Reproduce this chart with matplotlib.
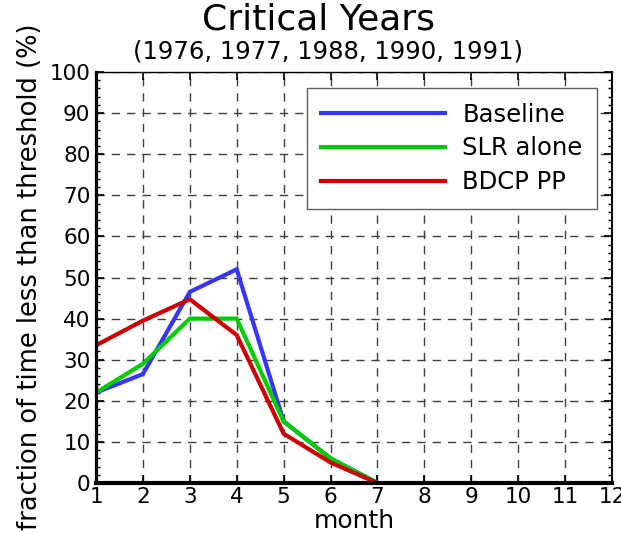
import matplotlib
matplotlib.use("Agg")
import matplotlib.pyplot as plt
from matplotlib.ticker import MultipleLocator

months = [1, 2, 3, 4, 5, 6, 7]
baseline = [22, 26.5, 46.5, 52, 15, 6, 0]
slr_alone = [22, 29, 40, 40, 15, 6, 0]
bdcp_pp = [33.5, 39.5, 44.7, 36, 12, 5, 0]
series_labels = ["Baseline", "SLR alone", "BDCP PP"]
series_colors = ["#3535ff", "#00cc00", "#cc0000"]
xticks = list(range(1, 13))
yticks = list(range(0, 101, 10))

plt.rcParams['font.family'] = ['DejaVu Sans']

W, H = 621, 533
fig = plt.figure(figsize=(W/100, H/100), dpi=100)
ax = fig.add_axes([96/W, 1-483/H, (612-96)/W, (483-72)/H])

for vals, lab, col in zip([baseline, slr_alone, bdcp_pp], series_labels, series_colors):
    ax.plot(months, vals, color=col, lw=3, label=lab, solid_joinstyle='miter')

ax.set_xlim(1, 12)
ax.set_ylim(0, 100)
ax.set_xticks(xticks)
ax.set_yticks(yticks)
ax.yaxis.set_minor_locator(MultipleLocator(2))
ax.grid(True, which='major', color='#404040', linestyle=(0, (6, 5)), lw=1)
ax.set_axisbelow(True)

ax.tick_params(axis='both', which='major', direction='in', labelsize=15.5,
               top=True, right=True, length=6, width=1.2, pad=4)
ax.tick_params(axis='y', which='minor', direction='in', left=True, right=True, length=3, width=1)
ax.tick_params(axis='x', which='major', top=True, pad=3)

ax.spines['left'].set_linewidth(2.3)
ax.spines['bottom'].set_linewidth(3)
ax.spines['right'].set_linewidth(1.5)
ax.spines['top'].set_linewidth(1)

fig.text(354/W, 1-528/H, "month", ha='center', va='baseline', fontsize=18)
fig.text(30/W, 1-276.5/H, "fraction of time less than threshold (%)", rotation=90,
         ha='center', va='center', fontsize=18.5)

leg = ax.legend(loc='upper right', bbox_to_anchor=(0.971, 0.961), fontsize=17.5,
                handlelength=5.1, handletextpad=0.7, labelspacing=0.4,
                borderpad=0.6, borderaxespad=0, fancybox=False, framealpha=1,
                edgecolor='#606060')
leg.get_frame().set_linewidth(1)

fig.text(318/W, 1-20/H, "Critical Years", ha='center', va='center', fontsize=26)
fig.text(328/W, 1-52/H, "(1976, 1977, 1988, 1990, 1991)", ha='center', va='center', fontsize=17.5)

fig.savefig("out.png", dpi=100)
